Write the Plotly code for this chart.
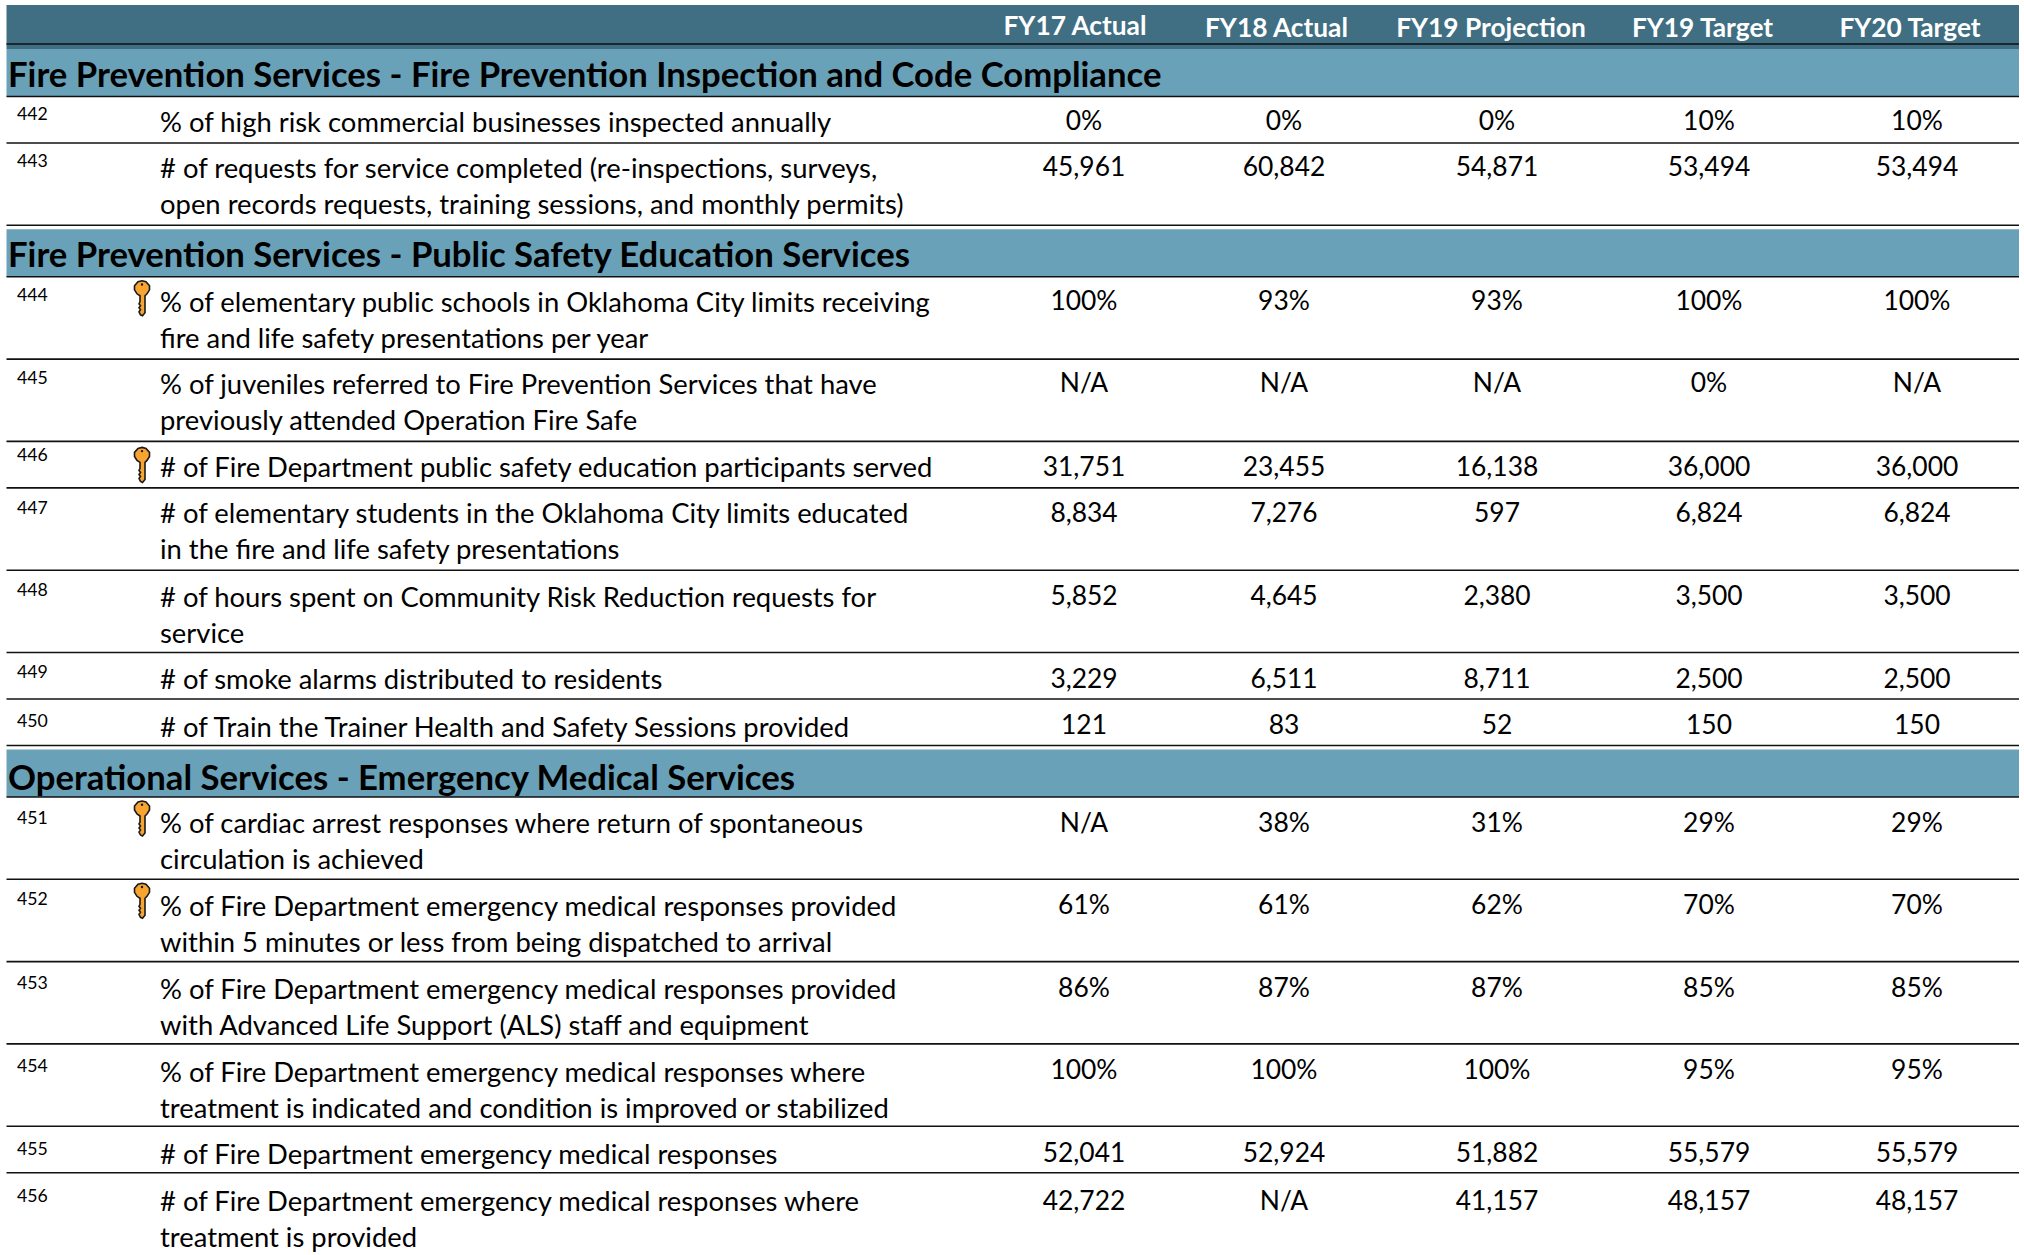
import plotly.graph_objects as go

# ---------- data ----------
columns = ["FY17 Actual", "FY18 Actual", "FY19 Projection", "FY19 Target", "FY20 Target"]
sections = {
    "Fire Prevention Services - Fire Prevention Inspection and Code Compliance": [442, 443],
    "Fire Prevention Services - Public Safety Education Services": [444, 445, 446, 447, 448, 449, 450],
    "Operational Services - Emergency Medical Services": [451, 452, 453, 454, 455, 456],
}
key_ids = [444, 446, 451, 452]
labels = {
    442: ["% of high risk commercial businesses inspected annually"],
    443: ["# of requests for service completed (re-inspections, surveys,", "open records requests, training sessions, and monthly permits)"],
    444: ["% of elementary public schools in Oklahoma City limits receiving", "fire and life safety presentations per year"],
    445: ["% of juveniles referred to Fire Prevention Services that have", "previously attended Operation Fire Safe"],
    446: ["# of Fire Department public safety education participants served"],
    447: ["# of elementary students in the Oklahoma City limits educated", "in the fire and life safety presentations"],
    448: ["# of hours spent on Community Risk Reduction requests for", "service"],
    449: ["# of smoke alarms distributed to residents"],
    450: ["# of Train the Trainer Health and Safety Sessions provided"],
    451: ["% of cardiac arrest responses where return of spontaneous", "circulation is achieved"],
    452: ["% of Fire Department emergency medical responses provided", "within 5 minutes or less from being dispatched to arrival"],
    453: ["% of Fire Department emergency medical responses provided", "with Advanced Life Support (ALS) staff and equipment"],
    454: ["% of Fire Department emergency medical responses where", "treatment is indicated and condition is improved or stabilized"],
    455: ["# of Fire Department emergency medical responses"],
    456: ["# of Fire Department emergency medical responses where", "treatment is provided"],
}
values = {
    442: ["0%", "0%", "0%", "10%", "10%"],
    443: ["45,961", "60,842", "54,871", "53,494", "53,494"],
    444: ["100%", "93%", "93%", "100%", "100%"],
    445: ["N/A", "N/A", "N/A", "0%", "N/A"],
    446: ["31,751", "23,455", "16,138", "36,000", "36,000"],
    447: ["8,834", "7,276", "597", "6,824", "6,824"],
    448: ["5,852", "4,645", "2,380", "3,500", "3,500"],
    449: ["3,229", "6,511", "8,711", "2,500", "2,500"],
    450: ["121", "83", "52", "150", "150"],
    451: ["N/A", "38%", "31%", "29%", "29%"],
    452: ["61%", "61%", "62%", "70%", "70%"],
    453: ["86%", "87%", "87%", "85%", "85%"],
    454: ["100%", "100%", "100%", "95%", "95%"],
    455: ["52,041", "52,924", "51,882", "55,579", "55,579"],
    456: ["42,722", "N/A", "41,157", "48,157", "48,157"],
}

# ---------- layout constants ----------
W, H = 2024, 1255
LEFT, RIGHT = 6.5, 2019
HEADER_TOP, HEADER_RULE, HEADER_BOTTOM = 5, 44, 49
BAND_H = 47.5
BAND_GAP = 4
ROW_H = {1: 46.5, 2: 82.3}
HEADER_X = [1075, 1276.5, 1491, 1702.5, 1910]
HEADER_Y = [28.5, 30.5, 30.5, 30.5, 30.5]
VALUE_X = [1084, 1284, 1497, 1709, 1917]
DARK, BAND, KEY = "#406e82", "#69a2b8", "#f7a430"
FONT = "Lato"
# small vertical corrections per row / per section (px), as the source's text baseline drifts
TEXT_SHIFT = dict(zip(range(442, 457), [2.5, 2.5, 2.5, 2.5, 2.5, 2.5, 4, 4, 5, 3, 4, 5, 5, 5, 5]))
VALUE_SHIFT = dict(zip(range(442, 457), [2.5, 2.5, 2.5, 2.5, 4, 4, 4, 5, 4, 4, 4, 5, 5, 5, 6.5]))
ID_SHIFT = dict(zip(range(442, 457), [0, 1, 1, 1, -4, 2.5, 2.5, 2.5, 5, 4, 2.5, 4, 5, 5, 6]))
BAND_SHIFT = [2.5, 2.5, 5]

def key_path(x, y):
    pts = [(8, 0), (12, 1), (15.5, 5), (15.5, 9), (13, 13), (11, 15), (11, 32), (8.5, 35), (6.5, 34),
           (5, 31), (6.5, 29), (5, 27), (6.5, 25), (5, 23), (6, 21), (6, 15), (3, 13), (0.5, 9), (0.5, 5), (4, 1)]
    return "M" + " L".join(f"{x + a:.1f},{y + b:.1f}" for a, b in pts) + " Z"

shapes = [
    dict(type="rect", x0=LEFT, x1=RIGHT, y0=HEADER_TOP, y1=HEADER_BOTTOM, fillcolor=DARK, line_width=0, layer="below"),
]
rules = [HEADER_RULE]
sec_x, sec_y, sec_t = [], [], []
id_x, id_y, id_t = [], [], []
lab_x, lab_y, lab_t = [], [], []
val_x, val_y, val_t = [], [], []
y = HEADER_BOTTOM
for i, (title, ids) in enumerate(sections.items()):
    if i:
        y += BAND_GAP
    shapes.append(dict(type="rect", x0=LEFT, x1=RIGHT, y0=y, y1=y + BAND_H, fillcolor=BAND, line_width=0, layer="below"))
    sec_x.append(8); sec_y.append(y + 27 + BAND_SHIFT[i]); sec_t.append(title)
    y += BAND_H
    rules.append(y)
    for rid in ids:
        id_x.append(17); id_y.append(y + 19 + ID_SHIFT[rid]); id_t.append(str(rid))
        for j, line in enumerate(labels[rid]):
            lab_x.append(160); lab_y.append(y + 26 + TEXT_SHIFT[rid] + 36 * j); lab_t.append(line)
        for cx, v in zip(VALUE_X, values[rid]):
            val_x.append(cx); val_y.append(y + 24 + VALUE_SHIFT[rid]); val_t.append(v)
        if rid in key_ids:
            kx, ky = 134, y + (6 if len(labels[rid]) == 1 else 4)
            shapes.append(dict(type="path", path=key_path(kx, ky), fillcolor=KEY,
                               line=dict(color="#1a1a1a", width=1.6)))
            shapes.append(dict(type="circle", x0=kx + 6.8, x1=kx + 9.2, y0=ky + 2.5, y1=ky + 4.9,
                               fillcolor="#1a1a1a", line_width=0))
        y += ROW_H[len(labels[rid])]
        if rid != 456:
            rules.append(y)
for r in rules:
    shapes.append(dict(type="line", x0=LEFT, x1=RIGHT, y0=r, y1=r, line=dict(color="#111111", width=1.6)))

def text_trace(xs, ys, ts, size, pos, color="#000000", bold=False):
    return go.Scatter(x=xs, y=ys, text=ts, mode="text", textposition=pos, hoverinfo="skip", showlegend=False,
                      cliponaxis=False,
                      textfont=dict(family=FONT, size=size, color=color, weight=700 if bold else 400))

fig = go.Figure()
fig.add_trace(text_trace(HEADER_X, HEADER_Y, columns, 26.3, "middle center", "#ffffff", True))
fig.add_trace(text_trace(sec_x, sec_y, sec_t, 34.7, "middle right", "#000000", True))
fig.add_trace(text_trace(id_x, id_y, id_t, 17.7, "middle right"))
fig.add_trace(text_trace(lab_x, lab_y, lab_t, 27.4, "middle right"))
fig.add_trace(text_trace(val_x, val_y, val_t, 26.4, "middle center"))
fig.update_layout(
    width=W, height=H, margin=dict(l=0, r=0, t=0, b=0), paper_bgcolor="white", plot_bgcolor="white",
    xaxis=dict(range=[0, W], visible=False, fixedrange=True),
    yaxis=dict(range=[H, 0], visible=False, fixedrange=True),
    shapes=shapes, showlegend=False,
)
fig.write_html("out.html", config={"displayModeBar": False},
               post_script="document.body.style.margin='0';document.documentElement.style.overflow='hidden';")
